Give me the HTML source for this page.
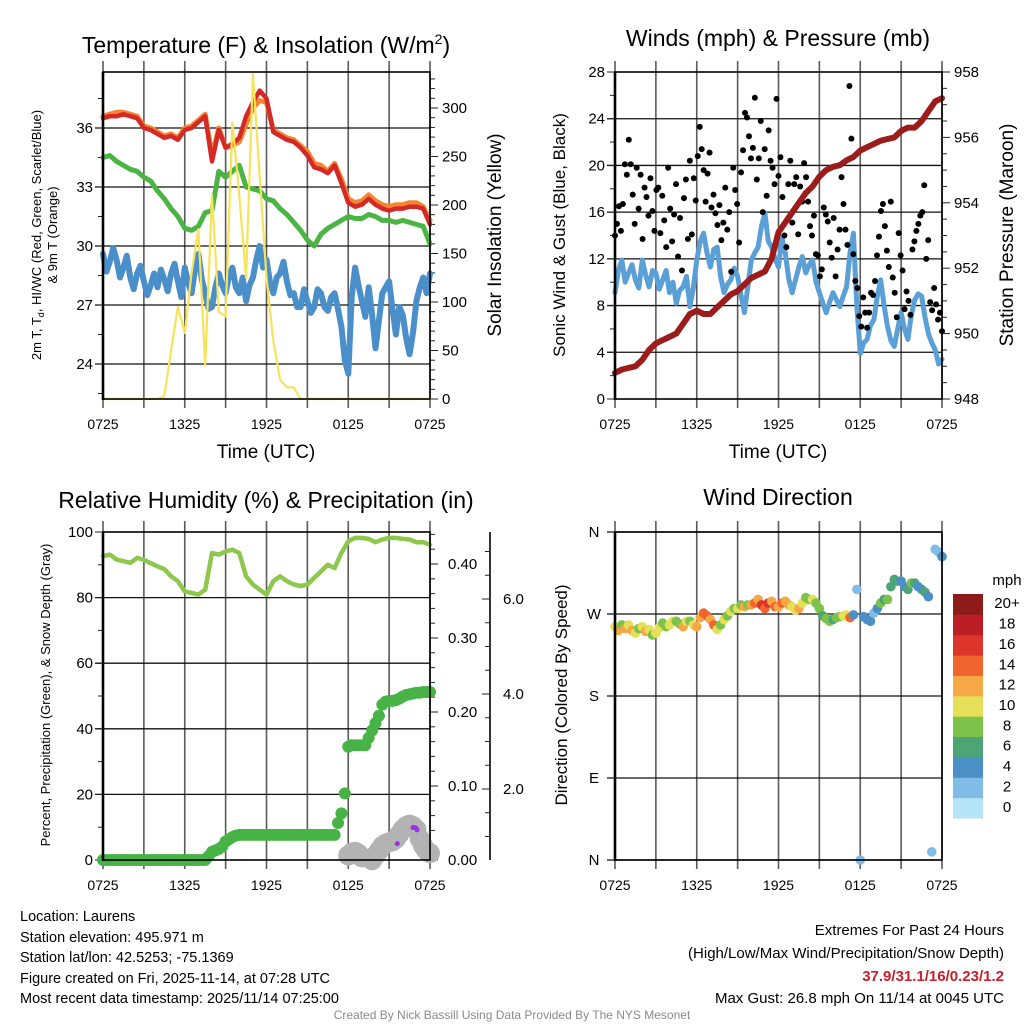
<!DOCTYPE html>
<html><head><meta charset="utf-8"><style>
html,body{margin:0;padding:0;background:#fff;}
svg{display:block;font-family:"Liberation Sans",Arial,sans-serif;}
</style></head><body>
<svg id="chart" width="1024" height="1024" viewBox="0 0 1024 1024" xmlns="http://www.w3.org/2000/svg">
<rect width="1024" height="1024" fill="#fff"/>
<g id="layer"></g>
<!-- titles -->
<text x="266" y="53" font-size="23" text-anchor="middle">Temperature (F) &amp; Insolation (W/m<tspan dy="-9" font-size="14">2</tspan><tspan dy="9">)</tspan></text>
<text x="778" y="46" font-size="23" text-anchor="middle">Winds (mph) &amp; Pressure (mb)</text>
<text x="266" y="508" font-size="23" text-anchor="middle">Relative Humidity (%) &amp; Precipitation (in)</text>
<text x="778" y="505" font-size="23" text-anchor="middle">Wind Direction</text>
<!-- axis titles -->
<text x="266" y="458" font-size="19" text-anchor="middle">Time (UTC)</text>
<text x="778" y="458" font-size="19" text-anchor="middle">Time (UTC)</text>
<text transform="translate(41,235) rotate(-90)" font-size="13" text-anchor="middle">2m T, T<tspan dy="3" font-size="9">d</tspan><tspan dy="-3">, HI/WC (Red, Green, Scarlet/Blue)</tspan></text>
<text transform="translate(57,235) rotate(-90)" font-size="13" text-anchor="middle">&amp; 9m T (Orange)</text>
<text transform="translate(501,235) rotate(-90)" font-size="19" text-anchor="middle">Solar Insolation (Yellow)</text>
<text transform="translate(565,235) rotate(-90)" font-size="17" text-anchor="middle">Sonic Wind &amp; Gust (Blue, Black)</text>
<text transform="translate(1013,235) rotate(-90)" font-size="19" text-anchor="middle">Station Pressure (Maroon)</text>
<text transform="translate(50,695) rotate(-90)" font-size="13" text-anchor="middle">Percent, Precipitation (Green), &amp; Snow Depth (Gray)</text>
<text transform="translate(567,695) rotate(-90)" font-size="17" text-anchor="middle">Direction (Colored By Speed)</text>
<!-- footer -->
<g font-size="14.5">
<text x="20" y="921">Location: Laurens</text>
<text x="20" y="942">Station elevation: 495.971 m</text>
<text x="20" y="962">Station lat/lon: 42.5253; -75.1369</text>
<text x="20" y="983">Figure created on Fri, 2025-11-14, at 07:28 UTC</text>
<text x="20" y="1003">Most recent data timestamp: 2025/11/14 07:25:00</text>
</g>
<g font-size="15" text-anchor="end">
<text x="1004" y="935">Extremes For Past 24 Hours</text>
<text x="1004" y="958">(High/Low/Max Wind/Precipitation/Snow Depth)</text>
<text x="1004" y="981" fill="#c8202a" font-weight="bold">37.9/31.1/16/0.23/1.2</text>
<text x="1004" y="1003">Max Gust: 26.8 mph On 11/14 at 0045 UTC</text>
</g>
<text x="512" y="1019" font-size="12" fill="#8a8a8a" text-anchor="middle">Created By Nick Bassill Using Data Provided By The NYS Mesonet</text>
</svg>
<script>
// ---------- DATA ----------
const xTickLabels = ["0725","1325","1925","0125","0725"];
const stepHalf = 0.5;
const stepQuarter = 0.25;
const temp2m = [36.5,36.6,36.6,36.7,36.6,36.5,36.0,35.9,35.7,35.5,35.6,35.4,35.9,36.0,36.3,36.6,34.3,35.9,35.0,35.2,35.5,36.6,37.3,37.9,37.5,35.8,35.6,35.4,35.3,35.0,34.6,34.0,33.9,33.7,34.1,33.2,32.2,32.0,32.1,32.4,32.1,31.9,31.8,31.9,31.9,32.0,32.0,31.9,31.1];
const temp9m = [36.6,36.7,36.8,36.8,36.7,36.6,36.1,36.0,35.8,35.6,35.7,35.5,36.0,36.1,36.4,36.7,34.6,36.0,35.0,35.1,35.3,36.2,37.0,37.4,37.3,35.9,35.7,35.5,35.4,35.1,34.8,34.2,34.1,33.8,34.2,33.4,32.4,32.2,32.3,32.6,32.3,32.1,32.0,32.1,32.1,32.2,32.2,32.0,31.3];
const dewpoint = [34.5,34.6,34.3,34.1,33.9,33.8,33.5,33.3,32.8,32.4,31.9,31.5,30.9,30.8,31.0,31.7,31.8,33.8,33.5,33.8,34.1,33.0,32.9,32.8,32.4,32.3,31.9,31.6,31.2,30.8,30.3,30.0,30.6,30.9,31.1,31.3,31.5,31.4,31.4,31.6,31.5,31.3,31.3,31.2,31.3,31.2,31.1,31.0,30.1];
const windChill = [29.6,28.7,29.2,29.9,29.3,28.4,28.9,29.5,28.4,27.8,
28.6,29.0,28.2,27.5,28.0,28.6,27.9,28.8,28.3,27.7,
28.6,29.1,28.2,27.4,28.9,28.1,27.6,28.8,29.6,28.3,
27.6,26.8,26.9,27.9,28.6,28.0,27.6,28.5,28.9,27.9,
27.6,28.4,27.2,28.0,28.4,29.3,30.0,28.9,29.3,28.2,
27.6,28.4,28.6,29.2,28.2,27.5,27.6,26.9,26.9,27.8,
27.2,26.6,26.9,27.8,27.6,26.9,26.7,27.4,27.6,26.8,
25.9,24.2,23.5,27.4,28.9,28.0,27.2,26.4,27.9,26.5,
24.8,26.2,27.6,27.9,28.2,26.8,25.5,26.9,26.5,25.3,
24.5,25.6,27.2,27.9,28.4,27.6,28.6];
const solar = [0,0,0,0,0,0,0,0,0,3,50,95,68,130,175,35,210,90,85,285,210,125,335,230,125,60,20,12,12,0,0,0,0,0,0,0,0,0,0,0,0,0,0,0,0,0,0,0,0];
const tempTicks = [24,27,30,33,36];
const solarTicks = [0,50,100,150,200,250,300];

const windSpeed = [9.1,11.0,11.9,10.0,10.8,11.5,10.2,9.5,11.9,10.6,9.6,11.0,10.8,9.4,10.2,11.0,9.1,10.0,8.2,9.3,
9.6,10.5,7.9,9.5,11.9,13.5,14.2,12.5,11.3,12.8,13.0,10.5,9.1,9.8,10.2,11.2,10.5,8.9,7.4,9.6,
11.9,12.5,13.0,14.8,15.9,13.5,13.0,12.0,11.3,13.8,12.5,10.3,9.1,10.2,11.3,12.2,10.8,11.5,11.9,10.0,
9.1,8.2,7.4,8.3,9.1,8.5,7.9,8.8,9.6,12.5,14.2,8.0,3.9,4.8,5.1,6.3,6.8,8.8,10.2,8.0,
6.2,5.0,4.5,6.0,7.4,6.0,5.1,7.2,8.5,9.0,8.8,7.0,5.6,4.8,4.2,3.0,3.4];
const pressure = [948.8,948.9,948.95,949.0,949.2,949.5,949.7,949.8,949.9,950.0,950.3,950.6,950.7,950.6,950.6,950.8,951.0,951.2,951.3,951.5,951.7,951.8,951.9,952.3,953.1,953.4,953.7,954.0,954.3,954.5,954.8,955.0,955.1,955.15,955.3,955.4,955.6,955.7,955.8,955.9,955.95,956.0,956.2,956.3,956.3,956.5,956.8,957.1,957.2];
const gusts = [14,15,16.5,14.4,16.7,20.1,19.2,22.2,
20.1,17.5,15,19.8,16.3,19.2,13.7,18.1,17.3,15.7,18.9,16.1,14.4,17.9,18.1,14.2,17.4,
15.3,13.0,19.8,16.3,13.5,15.8,18.4,12.2,15.5,11,17.2,18.8,13.7,20.4,14.1,
18.9,17,20.8,23.3,21.4,19.6,16.9,19.3,21.1,16.4,17.5,15.9,14.9,16.6,13.6,
15.1,18.1,14.5,16,10.9,19.8,17.9,16.7,13.4,19.4,21.3,24.5,24.1,22.5,
20.6,21.5,25.8,18.8,20.6,23.8,16,21.4,17.4,23,20.4,19.8,18.4,25.7,19.1,20.7,17.3,14,13,18.4,
20.4,15.1,18.4,19,14.1,18.2,16.9,20.2,19,16.9,14.8,14,15.7,12.4,12.3,10.5,11.1,16.4,
15.8,15.2,13.4,12.1,15.5,10.5,12.8,14.5,19,16.7,14.5,13.2,26.8,22.3,12.4,10.1,9.5,
7.1,6.2,8.7,7.4,6.1,7.4,9.1,8.9,10.1,12.3,13.9,16.1,16.7,14.8,12.7,11.3,16.9,10.4,9.1,
7,14.2,12.3,11,7.7,9.2,8.4,7.2,12.8,13.5,14.4,15,15.7,16,18.3,12,13.6,8.3,7.6,9.5,8.1,6.8,7.4,5.8];
const windTicks = [0,4,8,12,16,20,24,28];
const pressureTicks = [948,950,952,954,956,958];

const humidity = [92.6,93.1,91.6,91.1,90.6,92.1,91.5,90.5,89.5,88.7,86.5,85.0,81.9,81.4,80.9,82.4,93.6,93.1,94.1,94.6,93.6,86.5,84.0,82.4,80.9,85.0,86.5,85.0,84.0,83.5,84.0,86.0,88.0,90.0,89.0,93.6,97.2,98.2,98.2,97.9,96.9,97.7,98.2,98.2,97.9,97.7,96.9,96.9,96.1];
const precip = [0,0,0,0,0,0,0,0,0,0,0,0,0,0,0,0,0,0,0,0,0,0,0,0,0,0,0,0,0,0,0,
0.005,0.011,0.013,0.015,0.018,0.025,0.028,0.031,0.033,0.034,
0.034,0.034,0.034,0.034,0.034,0.034,0.034,0.034,0.034,0.034,0.034,0.034,0.034,0.034,0.034,0.034,0.034,0.034,0.034,0.034,0.034,0.034,0.034,0.034,0.034,0.034,0.034,0.034,
0.05,0.063,0.09,0.153,0.155,0.155,0.155,0.155,0.155,
0.165,0.175,0.185,0.195,0.21,0.214,0.215,0.215,0.216,0.218,0.221,0.223,
0.224,0.225,0.226,0.226,0.227,0.227,0.227];
const snowStartHour = 18;
const snowDepth = [0.6,0.66,0.68,0.64,0.56,null,null,0.5,0.6,0.7,0.8,0.85,0.88,0.9,0.95,1.05,1.15,1.22,1.25,1.22,1.15,0.95,0.8,0.7,0.65];
const snowfallHours = [21.6,22.75,22.85,22.95,23.05];
const snowfallValues = [0.85,1.19,1.19,1.18,1.14];
const rhTicks = [0,20,40,60,80,100];
const precipTicks = ["0.00","0.10","0.20","0.30","0.40"];
const snowTicks = ["2.0","4.0","6.0"];

const windDir = [256,252,258,254,258,252,249,254,256,251,253,247,249,255,260,256,258,262,262,259,256,262,262,258,256,266,271,268,264,258,253,258,264,268,273,276,276,280,278,280,280,282,286,280,276,282,284,278,278,282,284,280,278,274,276,282,288,286,286,282,276,268,265,262,264,266,267,268,269,266,269,297,0,267,264,262,271,276,282,286,286,300,308,306,306,300,297,304,304,300,297,294,289,9,341,338,333];
const dirSpeed = [10,12,9,12,11,13,10,9,11,12,10,9,11,10,8,9,10,11,8,9,12,11,9,10,
13,12,14,15,13,15, 10,9,11,8, 10,8,11,9,12,8,
13,14,12,17,15,16,13,14,12,15,13,12, 11,10,12,11,8,9,10,8,
8,7,9,8,7,8,9,10, 11,15,5,3, 3,4,5,4,3,5, 8,7,9,6,
6,7,5,4,6,8,7,5,4,6, 4,3,2,3,4];
const dirTicks = ["N","E","S","W","N"];
const speedColors = ["#b5e3f8","#80bce6","#4a8fc6","#4ba574","#7dc24b","#e6e058","#f5a845","#f0652e","#dd352b","#bd1e26","#8e1a1a"];
const speedLabels = ["0","2","4","6","8","10","12","14","16","18","20+"];

// ---------- HELPERS ----------
const NS = "http://www.w3.org/2000/svg";
const layer = document.getElementById('layer');
function mk(tag, attrs, parent){
  const e = document.createElementNS(NS, tag);
  for (const k in attrs) e.setAttribute(k, attrs[k]);
  (parent || layer).appendChild(e);
  return e;
}
const PX = [103, 615];
const PW = 327;
function xOf(panelLeft, h){ return panelLeft + h / 24 * PW; }
function linear(d0, d1, r0, r1){ return v => r0 + (v - d0) / (d1 - d0) * (r1 - r0); }

function frame(left, top, bottom, name){
  const g = mk('g', {});
  
  
  for (let k = 0; k <= 8; k++){
    const x = left + k * PW / 8;
    const l = mk('line', {x1:x, x2:x, y1:top-11, y2:bottom+9, stroke:'#5a5a5a', 'stroke-width':1.6}, g);
    
    
  }
  xTickLabels.forEach((lab, i) => {
    const t = mk('text', {x:left + i*PW/4, y:bottom+30, 'font-size':14, 'text-anchor':'middle'}, g);
    t.textContent = lab;
    
    
  });
  return g;
}
function border(left, top, bottom, name){
  const r = mk('rect', {x:left, y:top, width:PW, height:bottom-top, fill:'none', stroke:'#000', 'stroke-width':1.6});
  
  
  mk('line', {x1:left, x2:left, y1:top, y2:bottom+1, stroke:'#000', 'stroke-width':2.6});
}
function hgrid(left, y, g){
  const l = mk('line', {x1:left-8, x2:left+PW, y1:y, y2:y, stroke:'#111', 'stroke-width':1.3}, g);
  
  
}
function ytick(x, y, len, g){ mk('line', {x1:x, x2:x+len, y1:y, y2:y, stroke:'#222', 'stroke-width':1}, g); }
function label(x, y, txt, anchor, g, name, size){
  const t = mk('text', {x:x, y:y+5, 'font-size':size||15, 'text-anchor':anchor}, g);
  t.textContent = txt;
  
  
  return t;
}
function polyline(vals, step, start, xf, yf, color, w, name){
  const pts = vals.map((v,i)=> xf(start + i*step).toFixed(1) + ',' + yf(v).toFixed(1)).join(' ');
  const p = mk('polyline', {points:pts, fill:'none', stroke:color, 'stroke-width':w, 'stroke-linejoin':'round', 'stroke-linecap':'round'});
  
  
  return p;
}

// ---------- PANEL 1 : temperature ----------
(function(){
  const L = PX[0], T = 72, B = 399;
  const g = frame(L, T, B, 'temperature');
  const yT = linear(36, 24, 128, 364);
  const yS = linear(0, 300, 399, 108);
  const xf = h => xOf(L, h);
  tempTicks.forEach(v => { hgrid(L, yT(v), g); label(L-10, yT(v), String(v), 'end', g, 'temp-y-tick-label'); });
  for (let v = 22.5; v <= 38.5; v += 1.5){ if (yT(v) > T && yT(v) < B) ytick(L-5, yT(v), 5, g); }
  for (let v = 0; v <= 330; v += 10){ ytick(L+PW, yS(v), (v % 50 === 0) ? 8 : 5, g); }
  solarTicks.forEach(v => label(L+PW+12, yS(v), String(v), 'start', g, 'solar-y-tick-label'));
  polyline(windChill, stepQuarter, 0, xf, yT, '#4a8fc9', 6, 'windchill-line');
  polyline(dewpoint, stepHalf, 0, xf, yT, '#4bb544', 5, 'dewpoint-line');
  polyline(temp9m, stepHalf, 0, xf, yT, '#f5862f', 5, 'temp-9m-line');
  polyline(temp2m, stepHalf, 0, xf, yT, '#d42a27', 4.5, 'temp-2m-line');
  polyline(solar, stepHalf, 0, xf, yS, '#f7e35a', 2.2, 'solar-line');
  border(L, T, B, 'temperature');
})();

// ---------- PANEL 2 : winds ----------
(function(){
  const L = PX[1], T = 72, B = 399;
  const g = frame(L, T, B, 'winds');
  const yW = linear(0, 28, 399, 72);
  const yP = linear(948, 958, 399, 72);
  const xf = h => xOf(L, h);
  windTicks.forEach(v => { if (v>0 && v<28) hgrid(L, yW(v), g); label(L-10, yW(v), String(v), 'end', g, 'wind-y-tick-label'); });
  for (let v = 0; v <= 28; v += 2) ytick(L-(v%4===0?8:5), yW(v), v%4===0?8:5, g);
  for (let v = 948; v <= 958.01; v += 0.5) ytick(L+PW, yP(v), (Math.abs(v%2)<0.01) ? 8 : 5, g);
  pressureTicks.forEach(v => label(L+PW+12, yP(v), String(v), 'start', g, 'pressure-y-tick-label'));
  polyline(windSpeed, stepQuarter, 0, xf, yW, '#5a9fd6', 5, 'wind-speed-line');
  const gg = mk('g', {});
  
  
  gusts.forEach((v, i) => {
    const c = mk('circle', {cx:xf(i * 24 / (gusts.length - 1)), cy:yW(v), r:3, fill:'#000'}, gg);
    
    
  });
  polyline(pressure, stepHalf, 0, xf, yP, '#9c1b1b', 6, 'pressure-line');
  border(L, T, B, 'winds');
})();

// ---------- PANEL 3 : humidity & precipitation ----------
(function(){
  const L = PX[0], T = 532, B = 860;
  const g = frame(L, T, B, 'humidity');
  const yR = linear(0, 100, 860, 532);
  const yPr = linear(0, 0.4, 860, 564);
  const ySn = linear(0, 2, 884, 789);
  const xf = h => xOf(L, h);
  rhTicks.forEach(v => { if (v>0 && v<100) hgrid(L, yR(v), g); label(L-10, yR(v), String(v), 'end', g, 'rh-y-tick-label'); });
  for (let v = 0; v <= 100; v += 10) ytick(L-(v%20===0?8:5), yR(v), v%20===0?8:5, g);
  for (let k = 0; k <= 44; k++){ const v = k*0.01; ytick(L+PW, yPr(v), k%10===0?8:(k%2===0?5:0), g); }
  precipTicks.forEach(s => label(L+PW+18, yPr(parseFloat(s)), s, 'start', g, 'precip-y-tick-label'));
  mk('line', {x1:490, x2:490, y1:532, y2:860, stroke:'#000', 'stroke-width':1.6}, g);
  for (let v = 0.5; v <= 7.0; v += 0.5){ const y = ySn(v); if (y >= 532 && y <= 860) ytick(490-(v%2===0?8:5), y, v%2===0?8:5, g); }
  snowTicks.forEach(s => label(503, ySn(parseFloat(s)), s, 'start', g, 'snow-y-tick-label'));
  polyline(humidity, stepHalf, 0, xf, yR, '#8dc84c', 4.5, 'humidity-line');
  const sg = mk('g', {});
  
  
  snowDepth.forEach((v, i) => {
    if (v === null) return;
    const c = mk('circle', {cx:xf(snowStartHour + i*stepQuarter), cy:Math.min(ySn(v), 862), r:10, fill:'#b3b3b3'}, sg);
    
    
  });
  const pg = mk('g', {});
  
  
  precip.forEach((v, i) => {
    const c = mk('circle', {cx:xf(i*stepQuarter), cy:yPr(v), r:6, fill:'#47b347'}, pg);
    
    
  });
  snowfallHours.forEach((h, i) => {
    const c = mk('circle', {cx:xf(h), cy:ySn(snowfallValues[i]), r:2.5, fill:'#9b30e8'});
    
    
  });
  border(L, T, B, 'humidity');
})();

// ---------- PANEL 4 : wind direction ----------
(function(){
  const L = PX[1], T = 532, B = 860;
  const g = frame(L, T, B, 'direction');
  const yD = linear(0, 360, 860, 532);
  const xf = h => xOf(L, h);
  dirTicks.forEach((s, i) => { const y = yD(i*90); hgrid(L, y, g); label(L-21, y, s, 'middle', g, 'direction-y-tick-label'); });
  const dg = mk('g', {});
  
  
  windDir.forEach((d, i) => {
    const ci = Math.min(10, Math.floor(dirSpeed[i] / 2));
    const c = mk('circle', {cx:xf(i*stepQuarter), cy:yD(d), r:4.8, fill:speedColors[ci]}, dg);
    
    
  });
  border(L, T, B, 'direction');
  const cb = mk('g', {});
  
  
  const boxH = (818 - 594) / speedColors.length;
  speedColors.forEach((col, i) => {
    const y = 818 - (i+1)*boxH;
    const r = mk('rect', {x:953, y:y, width:30, height:boxH+0.5, fill:col}, cb);
    
    
    label(1007, y + boxH/2 - 1, speedLabels[i], 'middle', cb, 'colorbar-label', 15);
  });
  label(1007, 580, 'mph', 'middle', cb, 'colorbar-title', 15);
})();
</script>
</body></html>
